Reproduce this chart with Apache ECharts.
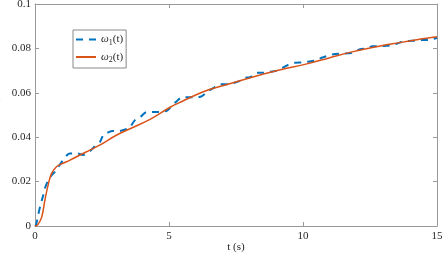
<!DOCTYPE html>
<html><head><meta charset="utf-8">
<script src="https://cdn.jsdelivr.net/npm/echarts@6/dist/echarts.min.js"></script>
<style>html,body{margin:0;padding:0;background:#fff}#c{width:443px;height:255px}</style>
</head><body><div id="c"></div>
<script>
// time (s) and values (p.u.)
var t1 = [0,0.04,0.12,0.19,0.31,0.37,0.5,0.63,0.75,0.87,1.05,1.2,1.3,1.57,1.8,1.98,2.16,2.28,2.43,2.55,2.7,2.9,3.13,3.43,3.55,3.73,3.92,4.18,4.48,4.66,4.93,5.15,5.25,5.5,5.7,6.05,6.23,6.46,6.64,6.9,7.2,7.39,7.57,7.84,8.02,8.28,8.5,8.77,9.03,9.25,9.44,9.7,9.96,10.19,10.45,10.7,10.9,11.2,11.45,11.68,11.83,12.13,12.39,12.6,12.87,13.13,13.36,13.6,13.9,14.1,14.37,14.63,14.85,15];
var omega1 = [0,0.0005,0.005,0.0087,0.014,0.017,0.0207,0.023,0.0245,0.0267,0.0297,0.032,0.0327,0.0327,0.032,0.033,0.035,0.0365,0.038,0.041,0.042,0.0428,0.0428,0.0437,0.0446,0.0477,0.049,0.0514,0.0514,0.0514,0.052,0.0548,0.0558,0.058,0.058,0.058,0.0585,0.0608,0.062,0.0638,0.0638,0.0644,0.065,0.0667,0.067,0.069,0.069,0.0695,0.070,0.0713,0.0725,0.0735,0.0737,0.074,0.0745,0.0758,0.0766,0.0775,0.0776,0.0778,0.078,0.0796,0.080,0.081,0.081,0.0812,0.0815,0.0826,0.0833,0.0835,0.0838,0.0838,0.0842,0.0848];
var t2 = [0,0.1,0.25,0.37,0.5,0.62,0.81,1.0,1.31,1.68,2.05,2.43,3.05,3.67,4.29,5.04,5.5,6.28,7.0,7.52,8.4,9.2,10.07,11.0,11.75,12.5,13.6,14.3,15];
var omega2 = [0,0.0005,0.004,0.0117,0.019,0.0237,0.0268,0.028,0.0297,0.032,0.0342,0.0365,0.041,0.0445,0.048,0.0535,0.0562,0.0605,0.0632,0.065,0.068,0.0705,0.0728,0.0758,0.0782,0.0802,0.0826,0.084,0.0852];
var xTicks = [0,5,10,15];
var yTicks = [0,0.02,0.04,0.06,0.08,0.1];
var xName = 't (s)';
var yName = 'Frequency (p.u.)';

function pairs(a,b){return a.map(function(x,i){return [x,b[i]];});}
var ff = '"Liberation Serif", serif';
var axisCol = '#999';
var txtCol = '#262626';
var chart = echarts.init(document.getElementById('c'));
var legRich = {
  i:{fontFamily:ff,fontStyle:'italic',fontSize:11,color:txtCol},
  n:{fontFamily:ff,fontSize:11,color:txtCol},
  s:{fontFamily:ff,fontSize:8,color:txtCol,verticalAlign:'bottom',padding:[6,0,0,0]}
};
chart.setOption({
  animation:false,
  backgroundColor:'#fff',
  title:{text:xName,left:236,top:242,textAlign:'center',padding:0,
    textStyle:{fontFamily:ff,fontSize:11,fontWeight:'normal',color:txtCol}},
  grid:{left:35,right:6,top:4,bottom:29,show:false,containLabel:false,outerBoundsMode:'none'},
  legend:{
    orient:'vertical',left:73,top:30,
    itemWidth:20,itemHeight:10,itemGap:5,
    padding:[4,3,4,2],
    borderColor:'#888',borderWidth:1,backgroundColor:'#fff',
    itemStyle:{opacity:0},
    data:[{name:'w1'},{name:'w2'}],
    formatter:function(n){return n==='w1'?'{i|ω}{s|1}{n|(t)}':'{i|ω}{s|2}{n|(t)}';},
    textStyle:{rich:legRich}
  },
  xAxis:[{
    type:'value',min:0,max:15,interval:5,
    axisLine:{onZero:false,lineStyle:{color:axisCol}},
    axisTick:{inside:true,length:4,lineStyle:{color:axisCol}},
    axisLabel:{fontFamily:ff,fontSize:11,color:txtCol,margin:5,
      formatter:function(v){return xTicks.indexOf(v)>=0?String(v):'';}},
    splitLine:{show:false}
  },{
    type:'value',min:0,max:15,interval:5,position:'top',
    axisLine:{show:true,onZero:false,lineStyle:{color:axisCol}},
    axisTick:{inside:true,length:4,lineStyle:{color:axisCol}},
    axisLabel:{show:false},splitLine:{show:false}
  }],
  yAxis:[{
    type:'value',min:0,max:0.1,interval:0.02,
    name:yName,nameLocation:'middle',nameGap:27,
    nameTextStyle:{fontFamily:ff,fontSize:11,color:txtCol},
    axisLine:{show:true,onZero:false,lineStyle:{color:axisCol}},
    axisTick:{show:true,inside:true,length:4,lineStyle:{color:axisCol}},
    axisLabel:{fontFamily:ff,fontSize:11,color:txtCol,margin:4,
      formatter:function(v){var r=Math.round(v*100)/100;return String(r);}},
    splitLine:{show:false}
  },{
    type:'value',min:0,max:0.1,interval:0.02,position:'right',
    axisLine:{show:true,onZero:false,lineStyle:{color:axisCol}},
    axisTick:{show:true,inside:true,length:4,lineStyle:{color:axisCol}},
    axisLabel:{show:false},splitLine:{show:false}
  }],
  series:[{
    name:'w1',type:'line',data:pairs(t1,omega1),showSymbol:false,symbol:'none',
    smooth:0.3,color:'#0072BD',
    lineStyle:{color:'#0072BD',width:2,type:[7,6]},z:2
  },{
    name:'w2',type:'line',data:pairs(t2,omega2),showSymbol:false,symbol:'none',
    smooth:0.4,color:'#D95319',
    lineStyle:{color:'#D95319',width:1.5},z:3
  }]
});
</script></body></html>
